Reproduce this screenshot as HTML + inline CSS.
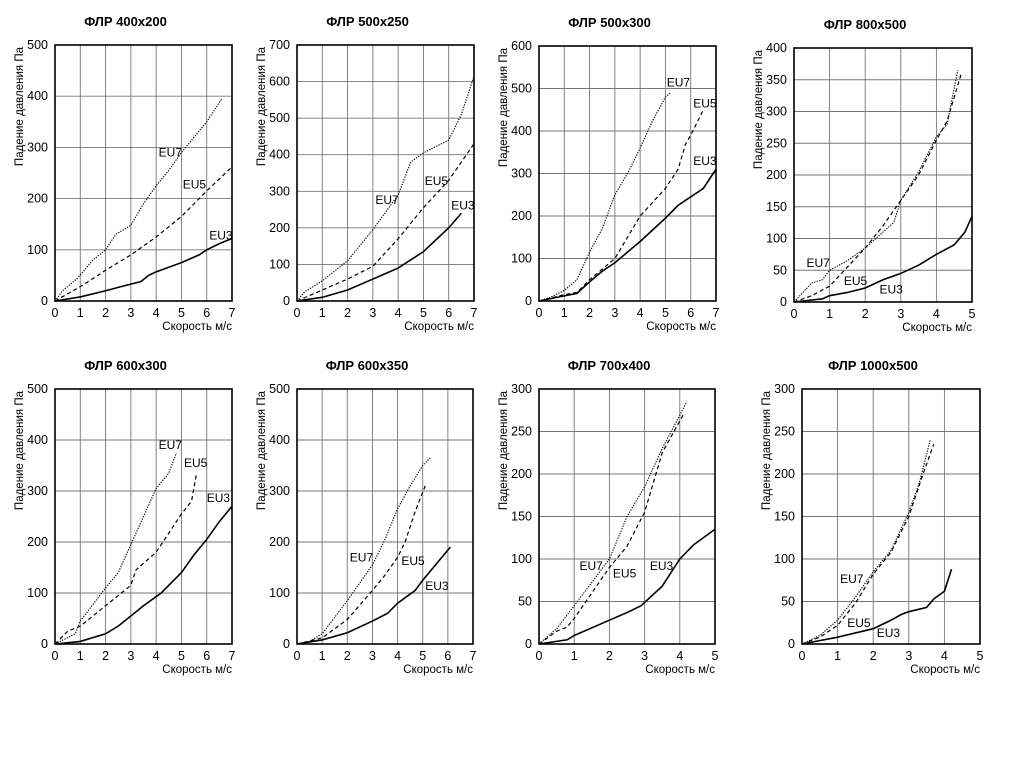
<!DOCTYPE html>
<html><head><meta charset="utf-8">
<style>
html,body{margin:0;padding:0;background:#fff;}
svg{display:block;font-family:"Liberation Sans",sans-serif;}
</style></head>
<body>
<svg id="chart" width="1019" height="766" viewBox="0 0 1019 766" xmlns="http://www.w3.org/2000/svg"></svg>
<script>
const titles = ["ФЛР 400x200","ФЛР 500x250","ФЛР 500x300","ФЛР 800x500","ФЛР 600x300","ФЛР 600x350","ФЛР 700x400","ФЛР 1000x500"];
const xMaxes = [7,7,7,5,7,7,5,5];
const yMaxes = [500,700,600,400,500,500,300,300];
const yStepSizes = [100,100,100,50,100,100,50,50];
const eu7Series = [
 [[0,0],[0.3,20],[0.9,45],[1.5,80],[2,100],[2.4,130],[3,148],[3.5,190],[4,225],[4.5,255],[5,290],[6,350],[6.6,395]],
 [[0,0],[0.3,25],[1,55],[2,110],[3,195],[4,290],[4.5,380],[5,405],[6,440],[6.5,510],[7,615]],
 [[0,0],[0.5,10],[1,25],[1.5,50],[2,115],[2.5,170],[3,250],[3.5,300],[4,360],[4.5,425],[5,480],[5.2,490]],
 [[0,0],[0.5,30],[0.8,35],[1,50],[1.5,65],[2,85],[2.5,110],[2.8,125],[3,160],[3.5,205],[4,260],[4.3,280],[4.6,365]],
 [[0,0],[0.8,20],[1,45],[2,110],[2.5,140],[3,195],[3.5,250],[4,305],[4.5,335],[4.8,375]],
 [[0,0],[0.5,5],[1,20],[2,85],[3,155],[3.5,205],[4,265],[4.5,310],[5,350],[5.3,365]],
 [[0,0],[0.5,18],[1,45],[2,100],[2.5,150],[3,185],[3.5,230],[4.2,285]],
 [[0,0],[0.5,10],[1,28],[1.5,55],[2,85],[2.5,110],[3,155],[3.3,190],[3.6,240]]
];
const eu5Series = [
 [[0,0],[1,28],[2,60],[3,90],[4,125],[5,165],[6,215],[7,262]],
 [[0,0],[1,30],[2,60],[3,95],[4,170],[5,255],[6,330],[7,430]],
 [[0,0],[1,15],[1.5,20],[2,50],[3,100],[3.5,150],[4,200],[5,265],[5.5,310],[5.8,370],[6,390],[6.5,450]],
 [[0,0],[0.5,10],[1,25],[1.5,55],[2,85],[2.5,120],[3,160],[3.5,200],[4,255],[4.3,285],[4.7,360]],
 [[0,0],[0.5,25],[1,35],[2,75],[3,115],[3.2,145],[4,180],[5,255],[5.4,280],[5.6,335]],
 [[0,0],[1,12],[2,48],[3,105],[3.5,135],[4,170],[4.3,200],[4.7,260],[5.1,310]],
 [[0,0],[0.5,15],[0.8,20],[1,30],[2,90],[2.5,115],[3,155],[3.5,225],[4.1,270]],
 [[0,0],[0.5,8],[1,22],[1.5,48],[2,82],[2.5,108],[3,150],[3.4,200],[3.7,235]]
];
const eu3Series = [
 [[0,0],[1,8],[2,20],[3,33],[3.4,38],[3.7,50],[4,57],[5,75],[5.7,90],[6,100],[6.5,112],[7,122]],
 [[0,0],[1,10],[2,30],[3,60],[4,90],[5,135],[6,200],[6.5,240]],
 [[0,0],[1,12],[1.5,18],[2,45],[2.5,70],[3,90],[4,140],[5,195],[5.5,225],[6.5,265],[7,310]],
 [[0,0],[0.8,5],[1,10],[1.5,15],[2,22],[2.5,35],[3,45],[3.5,58],[4,75],[4.5,90],[4.8,110],[5,135]],
 [[0,0],[1,5],[2,20],[2.5,35],[3,55],[3.5,75],[4.2,100],[5,140],[5.5,175],[6,205],[6.5,240],[7,270]],
 [[0,0],[1,8],[2,22],[3,45],[3.6,60],[4,80],[4.7,105],[5,125],[6.1,190]],
 [[0,0],[0.8,5],[1,10],[2,28],[2.5,37],[2.9,45],[3.5,68],[4,100],[4.4,117],[5,135]],
 [[0,0],[1,8],[2,18],[2.5,28],[2.8,35],[3,38],[3.5,43],[3.7,53],[4,62],[4.2,88]]
];
// series label anchor positions (data coords) for EU7, EU5, EU3
const eu7Labels = [[4.1,282],[3.1,265],[5.05,505],[0.35,55],[4.1,382],[2.1,162],[1.15,87],[1.07,72]];
const eu5Labels = [[5.05,220],[5.05,317],[6.1,455],[1.4,27],[5.1,347],[4.15,155],[2.1,78],[1.27,20]];
const eu3Labels = [[6.1,120],[6.1,250],[6.1,320],[2.4,13],[6.0,278],[5.1,106],[3.15,87],[2.1,8]];
const boxes = [[55,45,232,301],[297,45,474,301],[539,46,716,301],[794,48,972,302],
               [55,389,232,644],[297,389,473,644],[539,389,715,644],[802,389,980,644]];
const NS="http://www.w3.org/2000/svg";
const svg=document.getElementById('chart');
function mk(tag,attrs,parent){const e=document.createElementNS(NS,tag);for(const k in attrs)e.setAttribute(k,attrs[k]);(parent||svg).appendChild(e);return e;}
for(let i=0;i<8;i++){
  const [x0,y0,x1,y1]=boxes[i];
  const g=mk('g',{});
  
  
  const sx=v=>x0+(x1-x0)*v/xMaxes[i];
  const sy=v=>y1-(y1-y0)*v/yMaxes[i];
  const t=mk('text',{x:(x0+x1)/2-18,y:y0-19,'font-size':13,'font-weight':'bold','text-anchor':'middle'},g);
  t.textContent=titles[i];
  
  
  for(let v=1;v<xMaxes[i];v++){const l=mk('line',{x1:sx(v),x2:sx(v),y1:y0,y2:y1,stroke:'#777','stroke-width':0.9},g);
    }
  for(let v=yStepSizes[i];v<yMaxes[i];v+=yStepSizes[i]){const l=mk('line',{x1:x0,x2:x1,y1:sy(v),y2:sy(v),stroke:'#777','stroke-width':0.9},g);
    }
  for(let v=0;v<=xMaxes[i];v++){const tx=mk('text',{x:sx(v),y:y1+16,'font-size':12.5,'text-anchor':'middle'},g);tx.textContent=v;
    }
  for(let v=0;v<=yMaxes[i];v+=yStepSizes[i]){const tx=mk('text',{x:x0-7,y:sy(v)+4,'font-size':12.5,'text-anchor':'end'},g);tx.textContent=v;
    }
  const xt=mk('text',{x:x1,y:y1+29,'font-size':11.5,'text-anchor':'end'},g);xt.textContent='Скорость м/с';
  
  const yt=mk('text',{x:0,y:0,'font-size':11.5,'text-anchor':'end',transform:`translate(${x0-32},${y0+2}) rotate(-90)`},g);yt.textContent='Падение давления Па';
  
  const defs=[[eu7Series[i],'1.3,1.3',1.1,'eu7-line'],[eu5Series[i],'4,3',1.2,'eu5-line'],[eu3Series[i],'',1.6,'eu3-line']];
  defs.forEach(([pts,da,w,nm])=>{
    const p=mk('polyline',{points:pts.map(q=>sx(q[0])+','+sy(q[1])).join(' '),fill:'none',stroke:'#000','stroke-width':w,'stroke-dasharray':da},g);
    
  });
  [[eu7Labels[i],'EU7'],[eu5Labels[i],'EU5'],[eu3Labels[i],'EU3']].forEach(([pos,txt])=>{
    const l=mk('text',{x:sx(pos[0]),y:sy(pos[1]),'font-size':12},g);l.textContent=txt;
    
  });
  const r=mk('rect',{x:x0,y:y0,width:x1-x0,height:y1-y0,fill:'none',stroke:'#000','stroke-width':1.6},g);
  
}
</script>
</body></html>
